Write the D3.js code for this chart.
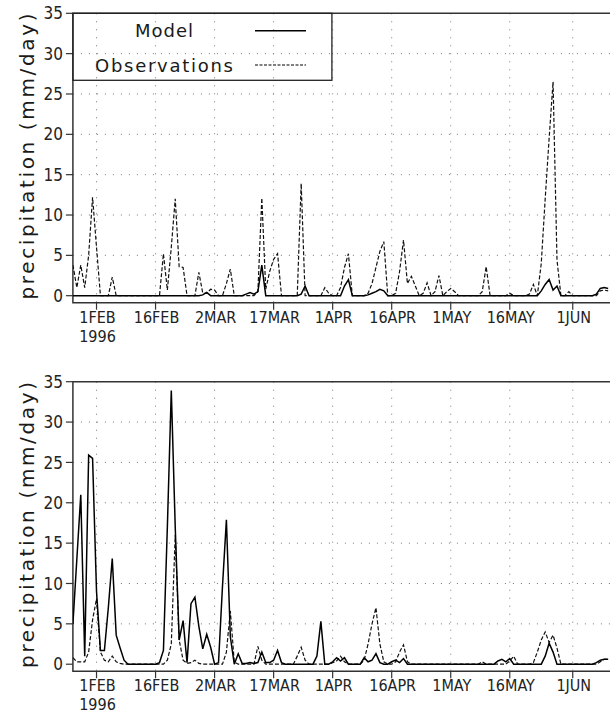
<!DOCTYPE html>
<html>
<head>
<meta charset="utf-8">
<script src="https://cdn.jsdelivr.net/npm/d3@7"></script>
<style>
  body { margin: 0; background: #fff; }
  svg { display: block; }
  .tick-label { font-family: "Liberation Sans Narrow", "DejaVu Sans Condensed", "Liberation Sans", sans-serif; font-size: 16px; fill: #222; }
  .title { font-family: "DejaVu Sans", sans-serif; font-size: 20px; fill: #1a1a1a; }
</style>
</head>
<body>
<svg id="dessin" width="610" height="715"></svg>
<script>
// donnees journalieres du 26 jan au 10 juin 1996
const startDay = new Date(Date.UTC(1996, 0, 26));
const endDay = new Date(Date.UTC(1996, 5, 11));
const tickDates = ["1996-02-01", "1996-02-16", "1996-03-02", "1996-03-17", "1996-04-01",
                   "1996-04-16", "1996-05-01", "1996-05-16", "1996-06-01"];
const yTicks = [0, 5, 10, 15, 20, 25, 30, 35];
const seriesNames = ["Model", "Observations"];

// panneau du haut
const modelTop = [
  0, 0, 0, 0, 0, 0, 0, 0, 0, 0,
  0, 0, 0, 0, 0, 0, 0, 0, 0, 0,
  0, 0, 0, 0, 0, 0, 0, 0, 0, 0,
  0, 0, 0, 0.1, 0.4, 0, 0, 0, 0, 0,
  0, 0, 0, 0, 0.2, 0.4, 0.2, 0.5, 3.8, 0,
  0, 0, 0, 0, 0, 0, 0, 0, 0.2, 1.2,
  0, 0, 0, 0, 0, 0, 0, 0, 0, 1.2,
  2.0, 0, 0, 0, 0, 0.1, 0.3, 0.5, 0.8, 0.6,
  0, 0, 0, 0, 0, 0, 0, 0, 0, 0,
  0, 0, 0, 0, 0, 0, 0, 0, 0, 0,
  0, 0, 0, 0, 0, 0, 0, 0, 0, 0,
  0, 0, 0, 0, 0, 0, 0, 0, 0, 0.6,
  1.4, 2.0, 0.7, 1.2, 0, 0, 0, 0, 0, 0,
  0, 0, 0, 0.2, 0.9, 1.0, 0.9
];
const obsTop = [
  3.8, 1.0, 3.8, 1.0, 5.0, 12.2, 6.0, 0, 0, 0,
  2.3, 0, 0, 0, 0, 0, 0, 0, 0, 0,
  0, 0, 0, 5.2, 0.7, 6.0, 12.0, 3.6, 3.5, 0,
  0, 0, 2.9, 0.3, 0.3, 0.8, 0.7, 0, 0, 1.5,
  3.3, 0, 0, 0, 0, 0, 0, 0.5, 12.1, 0.8,
  3.0, 4.5, 5.2, 0, 0, 0, 0, 0, 13.9, 0,
  0, 0, 0, 0, 1.0, 0.3, 0, 0, 1.0, 3.5,
  5.2, 0, 0, 0, 0, 0.3, 1.5, 3.5, 5.5, 6.7,
  0, 0, 0.3, 3.0, 6.9, 1.5, 2.4, 1.2, 0, 0.3,
  1.6, 0, 0.5, 2.5, 0, 0.5, 0.9, 0.5, 0, 0,
  0, 0, 0, 0, 0.5, 3.6, 0, 0, 0, 0,
  0, 0.3, 0, 0, 0, 0, 0.2, 1.4, 0, 4.0,
  12.0, 19.5, 26.5, 4.4, 0, 0, 0.5, 0, 0, 0,
  0, 0, 0, 0, 0.6, 0.7, 0.6
];

// panneau du bas
const modelBottom = [
  5.0, 13.0, 21.0, 1.0, 25.9, 25.5, 9.0, 1.7, 1.7, 7.0,
  13.1, 3.6, 2.0, 0.5, 0, 0, 0, 0, 0, 0,
  0, 0, 0.2, 1.7, 17.0, 33.9, 17.0, 3.0, 5.4, 0.2,
  7.5, 8.3, 4.7, 1.9, 3.7, 2.1, 0, 0.2, 9.6, 17.9,
  3.4, 0, 1.3, 0.1, 0.1, 0.2, 0.1, 0.2, 1.5, 0.2,
  0.2, 0.5, 1.7, 0.2, 0, 0, 0, 0, 0, 0,
  0, 0, 1.0, 5.3, 0, 0, 0.3, 0.8, 0.4, 0.8,
  0, 0, 0, 0, 0.8, 0.3, 0.5, 1.3, 0.2, 0,
  0, 0.3, 0.5, 0.2, 0.7, 0, 0, 0, 0, 0,
  0, 0, 0, 0, 0, 0, 0, 0, 0, 0,
  0, 0, 0, 0, 0, 0, 0, 0, 0.4, 0.6,
  0.3, 0.7, 0, 0, 0, 0, 0, 0, 0, 0,
  1.0, 2.6, 1.5, 0, 0, 0, 0, 0, 0, 0,
  0, 0, 0, 0.2, 0.5, 0.6, 0.6
];
const obsBottom = [
  0.8, 0.3, 0.3, 0.3, 1.5, 5.5, 8.1, 1.5, 0.5, 0.3,
  1.0, 0.3, 0.1, 0, 0, 0, 0, 0, 0, 0,
  0, 0, 0, 0, 0.5, 2.5, 16.0, 3.0, 0.5, 0.1,
  0.2, 0.5, 0.1, 0, 0, 0, 0, 0, 0, 1.5,
  6.6, 0.3, 0, 0, 0, 0, 0, 2.2, 0.5, 0,
  0, 0, 0, 0, 0, 0, 0, 1.0, 2.1, 0.5,
  0, 0, 0, 0, 0, 0, 0.2, 0.4, 1.0, 0.3,
  0, 0, 0, 0, 0.5, 2.5, 5.0, 7.0, 2.5, 0.3,
  0, 0, 0.3, 1.5, 2.4, 0.3, 0, 0, 0, 0,
  0, 0, 0, 0, 0, 0, 0, 0, 0, 0,
  0, 0, 0, 0, 0.3, 0, 0, 0, 0, 0,
  0, 0.4, 1.0, 0, 0, 0, 0, 0.2, 1.5, 3.0,
  4.0, 2.7, 3.6, 2.0, 0, 0, 0, 0, 0, 0,
  0, 0, 0, 0, 0.3, 0.6, 0.6
];

const svg = d3.select("#dessin");
const parseDay = d3.utcParse("%Y-%m-%d");
const fmtDay = d3.utcFormat("%-d%b");

const x = d3.scaleUtc().domain([startDay, endDay]).range([72.9, 612.1]);
const dayOf = i => d3.utcDay.offset(startDay, i);

function drawPanel(top, zero, model, obs, withLegend) {
  const y = d3.scaleLinear().domain([0, 35]).range([zero, top]);
  const axisY = zero + 7;
  const g = svg.append("g");

  // grille pointillee
  g.selectAll(".hgrid").data(yTicks.filter(v => v > 0 && v < 35)).enter()
    .append("line")
    .attr("x1", x.range()[0]).attr("x2", x.range()[1])
    .attr("y1", d => y(d)).attr("y2", d => y(d))
    .style("stroke", "#777").style("stroke-width", 1).style("stroke-dasharray", "1,7");
  g.selectAll(".vgrid").data(tickDates).enter()
    .append("line")
    .attr("x1", d => x(parseDay(d))).attr("x2", d => x(parseDay(d)))
    .attr("y1", top).attr("y2", axisY)
    .style("stroke", "#777").style("stroke-width", 1).style("stroke-dasharray", "1,7");

  // cadre
  g.append("path")
    .attr("d", `M${x.range()[1]},${top}H${x.range()[0]}V${axisY}H${x.range()[1]}`)
    .style("fill", "none").style("stroke", "#333").style("stroke-width", 1.5);

  // axe y
  g.selectAll(".ytick").data(yTicks).enter()
    .append("line")
    .attr("x1", x.range()[0] - 7).attr("x2", x.range()[0])
    .attr("y1", d => y(d)).attr("y2", d => y(d))
    .style("stroke", "#333").style("stroke-width", 1.2);
  g.selectAll(".ylab").data(yTicks).enter()
    .append("text").attr("class", "tick-label")
    .attr("x", x.range()[0] - 10).attr("y", d => y(d)).attr("dy", "0.36em")
    .attr("text-anchor", "end")
    .style("font-size", "17px")
    .text(d => d);

  // axe x
  g.selectAll(".xtick").data(tickDates).enter()
    .append("line")
    .attr("x1", d => x(parseDay(d))).attr("x2", d => x(parseDay(d)))
    .attr("y1", axisY).attr("y2", axisY + 7)
    .style("stroke", "#333").style("stroke-width", 1.2);
  g.selectAll(".xlab").data(tickDates).enter()
    .append("text").attr("class", "tick-label")
    .attr("x", d => x(parseDay(d)) + 1).attr("y", axisY + 20)
    .attr("text-anchor", "middle")
    .text(d => fmtDay(parseDay(d)).toUpperCase());
  g.append("text").attr("class", "tick-label")
    .attr("x", x(parseDay(tickDates[0])) + 1).attr("y", axisY + 39)
    .attr("text-anchor", "middle")
    .text("1996");

  // titre y
  const mid = (top + zero) / 2 + 2;
  g.append("text").attr("class", "title")
    .attr("transform", `translate(34,${mid}) rotate(-90)`)
    .attr("text-anchor", "middle")
    .attr("textLength", 286).attr("lengthAdjust", "spacing")
    .text("precipitation (mm/day)");

  // courbes
  const line = d3.line().x((d, i) => x(dayOf(i))).y(d => y(d));
  const clip = "clip" + Math.round(top);
  g.append("clipPath").attr("id", clip).append("rect")
    .attr("x", x.range()[0]).attr("y", top).attr("width", x.range()[1] - x.range()[0]).attr("height", zero - top + 2);
  g.append("path").datum(obs).attr("d", line).attr("clip-path", `url(#${clip})`)
    .style("fill", "none").style("stroke", "#111").style("stroke-width", 1.2).style("stroke-dasharray", "4,2");
  g.append("path").datum(model).attr("d", line).attr("clip-path", `url(#${clip})`)
    .style("fill", "none").style("stroke", "#000").style("stroke-width", 1.5);

  if (withLegend) {
    const lg = g.append("g");
    lg.append("rect").attr("x", x.range()[0]).attr("y", top).attr("width", 259).attr("height", 67)
      .style("fill", "none").style("stroke", "#222").style("stroke-width", 1.3);
    const rows = [{ name: seriesNames[0], tx: 135, ty: 37, tl: 58, ly: 30.7, dash: null },
                  { name: seriesNames[1], tx: 95, ty: 72, tl: 138, ly: 65, dash: "3,1.5" }];
    rows.forEach(r => {
      lg.append("text").attr("class", "title")
        .attr("x", r.tx).attr("y", r.ty).style("font-size", "18px")
        .attr("textLength", r.tl).attr("lengthAdjust", "spacing")
        .text(r.name);
      lg.append("line").attr("x1", 255).attr("x2", 306).attr("y1", r.ly).attr("y2", r.ly)
        .style("stroke", "#000").style("stroke-width", r.dash ? 1 : 1.5)
        .style("stroke-dasharray", r.dash);
    });
  }
}

drawPanel(13.3, 295.7, modelTop, obsTop, true);
drawPanel(381.7, 664.2, modelBottom, obsBottom, false);
</script>
</body>
</html>
